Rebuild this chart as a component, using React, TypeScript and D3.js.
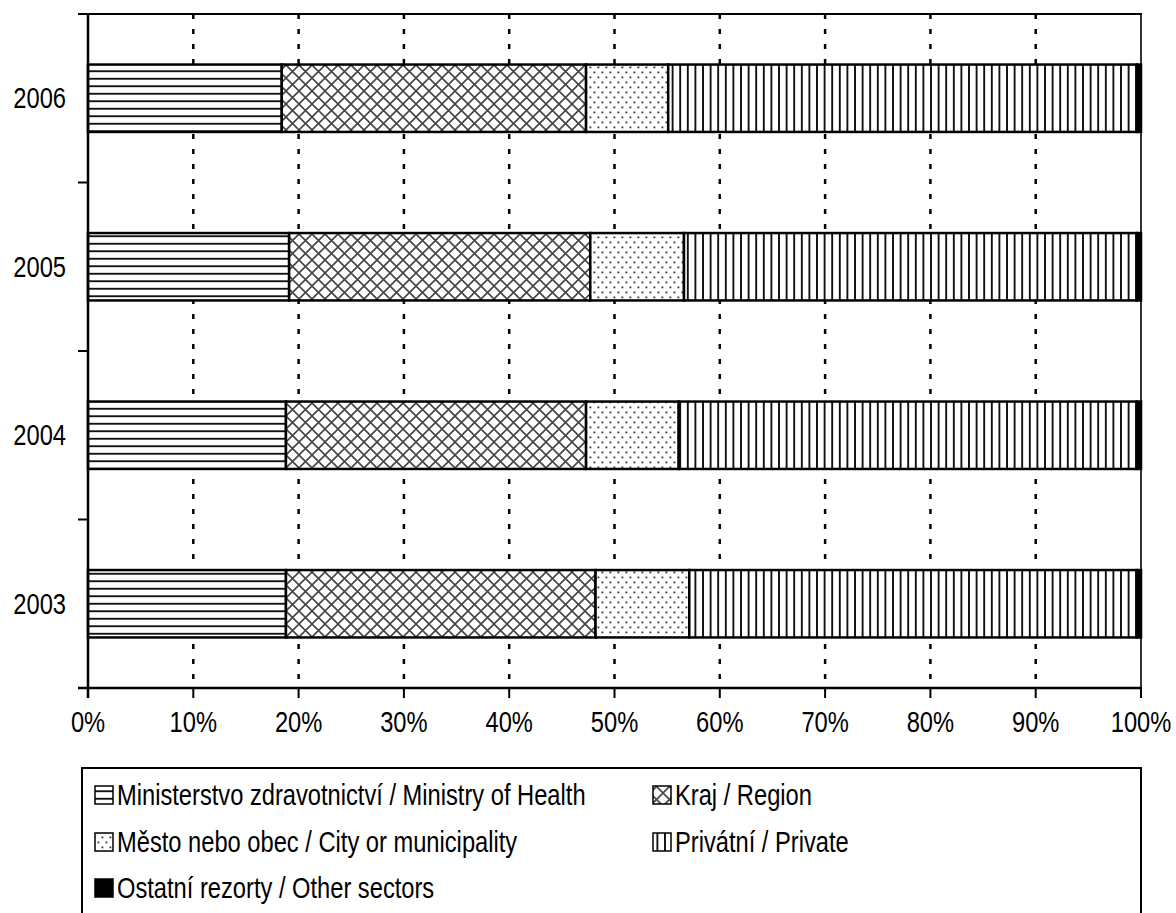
import React from "react";
import * as d3 from "d3";

const years = ["2003", "2004", "2005", "2006"];
const ministry = [18.8, 18.8, 19.1, 18.4];
const region = [29.4, 28.5, 28.6, 28.9];
const city = [8.9, 8.8, 8.9, 7.8];
const privat = [42.5, 43.5, 43.0, 44.5];
const other = [0.4, 0.4, 0.4, 0.4];
const xTicks = [0, 10, 20, 30, 40, 50, 60, 70, 80, 90, 100];
const seriesNames = [
  "Ministerstvo zdravotnictví / Ministry of Health",
  "Kraj / Region",
  "Město nebo obec / City or municipality",
  "Privátní / Private",
  "Ostatní rezorty / Other sectors",
];
const seriesKeys = ["ministry", "region", "city", "privat", "other"];
const fills = ["url(#pH)", "url(#pX)", "url(#pD)", "url(#pV)", "#000"];

const FONT = "'Liberation Sans', Arial, sans-serif";
const SX = 0.79;

function NText({ x, y, anchor, size, children }: any) {
  return (
    <text
      transform={`translate(${x},${y}) scale(${SX},1)`}
      textAnchor={anchor}
      dominantBaseline="central"
      fontSize={size}
      fill="#000"
    >
      {children}
    </text>
  );
}

export default function App() {
  const W = 1176, H = 913;
  const x0 = 88, x1 = 1141, yTop = 14, yBot = 688;
  const x = d3.scaleLinear().domain([0, 100]).range([x0, x1]);
  const yOrder = [...years].reverse();
  const y = d3.scaleBand().domain(yOrder).range([yTop, yBot]).paddingInner(0.6).paddingOuter(0.3);

  const rows = years.map((yr, i) => ({
    year: yr, ministry: ministry[i], region: region[i], city: city[i], privat: privat[i], other: other[i],
  }));
  const stacked = d3.stack<any>().keys(seriesKeys)(rows);

  const yTickPos = d3.range(years.length + 1).map((i) => yTop + (i * (yBot - yTop)) / years.length);

  const legendItems = [
    { i: 0, col: 0, row: 0 },
    { i: 1, col: 1, row: 0 },
    { i: 2, col: 0, row: 1 },
    { i: 3, col: 1, row: 1 },
    { i: 4, col: 0, row: 2 },
  ];
  const colX = [95, 653];
  const rowY = [795, 842, 888];

  return (
    <svg width={W} height={H} style={{ position: "absolute", left: 0, top: 0, background: "#fff" }} fontFamily={FONT}>
      <defs>
        <pattern id="pH" patternUnits="userSpaceOnUse" width="8" height="7.5">
          <rect width="8" height="7.5" fill="#fff" />
          <line x1="0" x2="8" y1="3.75" y2="3.75" stroke="#111" strokeWidth="1.9" />
        </pattern>
        <pattern id="pV" patternUnits="userSpaceOnUse" width="7.6" height="8">
          <rect width="7.6" height="8" fill="#fff" />
          <line y1="0" y2="8" x1="3.8" x2="3.8" stroke="#111" strokeWidth="1.9" />
        </pattern>
        <pattern id="pX" patternUnits="userSpaceOnUse" width="13" height="13">
          <rect width="13" height="13" fill="#fff" />
          <path d="M0,0 L13,13 M13,0 L0,13" stroke="#444" strokeWidth="1.6" />
        </pattern>
        <pattern id="pD" patternUnits="userSpaceOnUse" width="8" height="10">
          <rect width="8" height="10" fill="#fff" />
          <rect x="1.5" y="1.5" width="1.8" height="1.8" fill="#333" />
          <rect x="5.5" y="6.5" width="1.8" height="1.8" fill="#333" />
        </pattern>
      </defs>

      {/* gridlines */}
      {xTicks.slice(1, -1).map((t) => (
        <line key={"g" + t} x1={x(t)} x2={x(t)} y1={yTop} y2={yBot} stroke="#000" strokeWidth={2.5} strokeDasharray="5,10" />
      ))}
      <line x1={x(100)} x2={x(100)} y1={yTop} y2={yBot} stroke="#333" strokeWidth={2} />
      {/* top border */}
      <line x1={78} x2={x(100) + 1} y1={yTop} y2={yTop} stroke="#000" strokeWidth={2} />

      {/* bars */}
      {stacked.map((s, si) =>
        s.map((d: any, di: number) => (
          <rect
            key={si + "-" + di}
            x={x(d[0])}
            y={y(d.data.year)}
            width={x(d[1]) - x(d[0])}
            height={y.bandwidth()}
            fill={fills[si]}
            stroke="#000"
            strokeWidth={2.5}
          />
        ))
      )}

      {/* y axis */}
      <line x1={x0} x2={x0} y1={yTop - 1} y2={yBot + 10} stroke="#000" strokeWidth={2.5} />
      {yTickPos.map((p, i) => (
        <line key={"yt" + i} x1={78} x2={x0} y1={p} y2={p} stroke="#000" strokeWidth={2} />
      ))}
      {years.map((yr) => (
        <NText key={"yl" + yr} x={66} y={(y(yr) as number) + y.bandwidth() / 2} anchor="end" size={30}>
          {yr}
        </NText>
      ))}

      {/* x axis */}
      <line x1={78} x2={x1 + 1} y1={yBot} y2={yBot} stroke="#000" strokeWidth={2.5} />
      {xTicks.map((t) => (
        <g key={"xt" + t}>
          <line x1={x(t)} x2={x(t)} y1={yBot} y2={yBot + 10} stroke="#000" strokeWidth={2} />
          <NText x={x(t)} y={722} anchor="middle" size={30}>
            {t + "%"}
          </NText>
        </g>
      ))}

      {/* legend */}
      <rect x={82} y={768} width={x1 - 82} height={H} fill="none" stroke="#000" strokeWidth={2} />
      {legendItems.map((it) => (
        <g key={"lg" + it.i}>
          <rect x={colX[it.col]} y={rowY[it.row] - 9} width={18} height={18} fill={fills[it.i]} stroke="#000" strokeWidth={1.5} />
          <NText x={colX[it.col] + 22} y={rowY[it.row]} anchor="start" size={30}>
            {seriesNames[it.i]}
          </NText>
        </g>
      ))}
    </svg>
  );
}
